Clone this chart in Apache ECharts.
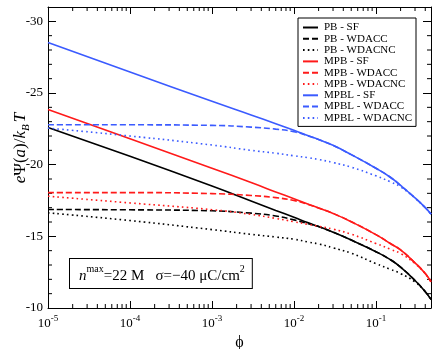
<!DOCTYPE html>
<html lang="en">
<head>
    <meta charset="UTF-8">
    <title>Surface potential vs phi</title>
    <style>
        *{
            margin: 0;
            padding: 0;
        }
        body{
            background: #fff;
        }
    </style>
</head>
<body>
<div id="main" style="width: 439px;height: 349px;"></div>
<script src="https://cdn.jsdelivr.net/npm/echarts@6/dist/echarts.min.js"></script>
<script type="text/javascript">
    // volume fraction samples (shared by all curves)
    var phi = [1e-5, 1e-4, 1e-3, 3e-3, 6e-3, 1e-2, 1.5e-2, 2e-2, 3e-2, 5e-2, 0.1, 0.15, 0.2, 0.3, 0.4, 0.47];

    // e*Psi(a)/kBT
    var pbSF       = [-22.6, -20.59, -18.51, -17.47, -16.81, -16.33, -15.94, -15.68, -15.29, -14.74, -13.93, -13.37, -12.85, -11.92, -11.14, -10.6];
    var pbWDACC    = [-16.87, -16.85, -16.78, -16.62, -16.42, -16.15, -15.88, -15.68, -15.29, -14.74, -13.93, -13.37, -12.85, -11.92, -11.14, -10.6];
    var pbWDACNC   = [-16.64, -16.1, -15.47, -15.14, -14.95, -14.8, -14.6, -14.47, -14.2, -13.82, -13.1, -12.7, -12.4, -11.82, -11.14, -10.6];
    var mpbSF      = [-23.85, -21.8, -19.75, -18.75, -18.1, -17.62, -17.24, -16.98, -16.6, -16.02, -15.12, -14.5, -14.05, -13.15, -12.4, -11.83];
    var mpbWDACC   = [-18.05, -18.05, -17.98, -17.85, -17.7, -17.5, -17.22, -16.98, -16.6, -16.02, -15.12, -14.5, -14.05, -13.15, -12.4, -11.83];
    var mpbWDACNC  = [-17.8, -17.33, -16.86, -16.53, -16.25, -16.02, -15.83, -15.7, -15.5, -15.15, -14.5, -14.1, -13.8, -13.1, -12.4, -11.83];
    var mpblSF     = [-28.52, -26.47, -24.42, -23.47, -22.86, -22.4, -22.02, -21.75, -21.35, -20.7, -19.75, -19.12, -18.55, -17.68, -17.0, -16.55];
    var mpblWDACC  = [-22.78, -22.78, -22.74, -22.62, -22.48, -22.3, -22.0, -21.75, -21.35, -20.7, -19.75, -19.12, -18.55, -17.68, -17.0, -16.55];
    var mpblWDACNC = [-22.55, -22.0, -21.37, -21.0, -20.8, -20.62, -20.48, -20.36, -20.15, -19.82, -19.22, -18.8, -18.45, -17.66, -17.0, -16.55];

    // axis ranges and tick helpers
    var xMin = 1e-5, xMax = 0.47;
    var yMin = -31, yMax = -10;
    var decades = [1e-5, 1e-4, 1e-3, 1e-2, 1e-1];
    var mults = [2, 3, 4, 5, 6, 7, 8, 9];
    var yMinor = [-29, -28, -27, -26, -24, -23, -22, -21, -19, -18, -17, -16, -14, -13, -12, -11];

    var serif = '"Liberation Serif", "DejaVu Serif", serif';
    var BLACK = '#000000', RED = '#ff1a1a', BLUE = '#3b5bff';

    function pairs(ys) {
        return phi.map(function (p, i) { return [p, ys[i]]; });
    }

    function curve(name, ys, color, type) {
        return {
            name: name,
            type: 'line',
            data: pairs(ys),
            symbol: 'none',
            smooth: 0.5,
            color: color,
            lineStyle: {
                color: color,
                width: 1.6,
                type: type === 'dash' ? [6, 3] : (type === 'dot' ? [1.6, 3.2] : 'solid')
            },
            z: 3
        };
    }

    var myChart = echarts.init(document.getElementById('main'));
    myChart.setOption({
        animation: false,
        backgroundColor: '#fff',
        grid: {
            left: 48,
            right: 8,
            top: 7,
            bottom: 41,
            outerBoundsMode: 'none'
        },
        xAxis: [
            {
                type: 'log',
                logBase: 10,
                min: xMin,
                max: xMax,
                position: 'bottom',
                name: 'ϕ',
                nameLocation: 'middle',
                nameGap: 24,
                nameTextStyle: {fontFamily: serif, fontSize: 16, color: '#000'},
                axisLine: {show: true, lineStyle: {color: '#000', width: 1}},
                axisTick: {show: true, inside: true, length: 7, lineStyle: {color: '#000'}},
                splitLine: {show: false},
                axisLabel: {
                    margin: 6,
                    color: '#000',
                    formatter: function (value) {
                        var e = Math.log(value) / Math.LN10;
                        if (Math.abs(e - Math.round(e)) > 1e-6) return '';
                        return '{b|10}{s|' + Math.round(e) + '}';
                    },
                    rich: {
                        b: {fontFamily: serif, fontSize: 13, color: '#000', lineHeight: 16, verticalAlign: 'bottom'},
                        s: {fontFamily: serif, fontSize: 9, color: '#000', lineHeight: 16, verticalAlign: 'top'}
                    }
                }
            },
            {
                type: 'log',
                logBase: 10,
                min: xMin,
                max: xMax,
                position: 'top',
                axisLine: {show: true, lineStyle: {color: '#000', width: 1}},
                axisTick: {show: true, inside: true, length: 7, lineStyle: {color: '#000'}},
                axisLabel: {show: false},
                splitLine: {show: false}
            }
        ],
        yAxis: [
            {
                type: 'value',
                min: yMin,
                max: yMax,
                inverse: true,
                splitNumber: 4,
                position: 'left',
                axisLine: {show: true, lineStyle: {color: '#000', width: 1}},
                axisTick: {show: true, inside: true, length: 8, lineStyle: {color: '#000'}},
                splitLine: {show: false},
                axisLabel: {
                    margin: 5,
                    fontFamily: serif,
                    fontSize: 13,
                    color: '#000',
                    formatter: function (value) {
                        return value % 5 === 0 ? String(value) : '';
                    }
                }
            },
            {
                type: 'value',
                min: yMin,
                max: yMax,
                inverse: true,
                splitNumber: 4,
                position: 'right',
                axisLine: {show: true, lineStyle: {color: '#000', width: 1}},
                axisTick: {show: true, inside: true, length: 8, lineStyle: {color: '#000'}},
                axisLabel: {show: false},
                splitLine: {show: false}
            }
        ],
        legend: {
            orient: 'vertical',
            left: 298,
            top: 18,
            itemWidth: 15,
            itemHeight: 8,
            itemGap: 0.3,
            padding: [4, 4, 3, 4],
            borderColor: '#000',
            borderWidth: 1,
            backgroundColor: '#fff',
            itemStyle: {color: 'rgba(0,0,0,0)', borderColor: 'rgba(0,0,0,0)', borderWidth: 0},
            textStyle: {fontFamily: serif, fontSize: 11, color: '#000', lineHeight: 10, padding: [0, 0, 0, 1]},
            data: ['PB - SF', 'PB - WDACC', 'PB - WDACNC', 'MPB - SF', 'MPB - WDACC', 'MPB - WDACNC',
                   'MPBL - SF', 'MPBL - WDACC', 'MPBL - WDACNC']
        },
        series: [
            curve('PB - SF', pbSF, BLACK, 'solid'),
            curve('PB - WDACC', pbWDACC, BLACK, 'dash'),
            curve('PB - WDACNC', pbWDACNC, BLACK, 'dot'),
            curve('MPB - SF', mpbSF, RED, 'solid'),
            curve('MPB - WDACC', mpbWDACC, RED, 'dash'),
            curve('MPB - WDACNC', mpbWDACNC, RED, 'dot'),
            curve('MPBL - SF', mpblSF, BLUE, 'solid'),
            curve('MPBL - WDACC', mpblWDACC, BLUE, 'dash'),
            curve('MPBL - WDACNC', mpblWDACNC, BLUE, 'dot')
        ]
    });

    // texts and minor ticks, placed through the chart's own scales
    var graphics = [
        {
            type: 'text',
            x: 21,
            y: 148,
            rotation: Math.PI / 2,
            style: {
                text: '{i|e}{r|Ψ(}{i|a}{r|)/}{i|k}{sub|B}{i|T}',
                align: 'center',
                verticalAlign: 'middle',
                rich: {
                    i: {fontFamily: serif, fontSize: 17, fontStyle: 'italic', fill: '#000', lineHeight: 22, verticalAlign: 'middle'},
                    r: {fontFamily: serif, fontSize: 17, fill: '#000', lineHeight: 22, verticalAlign: 'middle'},
                    sub: {fontFamily: serif, fontSize: 11, fontStyle: 'italic', fill: '#000', lineHeight: 22, verticalAlign: 'bottom', padding: [0, 2, 0, 0]}
                }
            }
        },
        {
            type: 'text',
            left: 69,
            top: 258,
            z: 10,
            style: {
                text: '{i|n}{sup|max}{r|=22 M   σ=−40 μC/cm}{sup|2}',
                backgroundColor: '#fff',
                borderColor: '#000',
                borderWidth: 1,
                padding: [5, 7, 4, 9],
                rich: {
                    i: {fontFamily: serif, fontSize: 15, fontStyle: 'italic', fill: '#000', lineHeight: 20, verticalAlign: 'bottom'},
                    r: {fontFamily: serif, fontSize: 15, fill: '#000', lineHeight: 20, verticalAlign: 'bottom'},
                    sup: {fontFamily: serif, fontSize: 10, fill: '#000', lineHeight: 20, verticalAlign: 'top'}
                }
            }
        }
    ];

    var tickLine = {stroke: '#000', lineWidth: 1};
    decades.forEach(function (d) {
        mults.forEach(function (m) {
            var v = d * m;
            if (v >= xMax) return;
            var b = myChart.convertToPixel({gridIndex: 0}, [v, yMax]);
            var t = myChart.convertToPixel({gridIndex: 0}, [v, yMin]);
            graphics.push({type: 'line', silent: true, shape: {x1: b[0], y1: b[1], x2: b[0], y2: b[1] - 4}, style: tickLine});
            graphics.push({type: 'line', silent: true, shape: {x1: t[0], y1: t[1], x2: t[0], y2: t[1] + 4}, style: tickLine});
        });
    });
    yMinor.forEach(function (y) {
        var l = myChart.convertToPixel({gridIndex: 0}, [xMin, y]);
        var r = myChart.convertToPixel({gridIndex: 0}, [xMax, y]);
        graphics.push({type: 'line', silent: true, shape: {x1: l[0], y1: l[1], x2: l[0] + 4, y2: l[1]}, style: tickLine});
        graphics.push({type: 'line', silent: true, shape: {x1: r[0], y1: r[1], x2: r[0] - 4, y2: r[1]}, style: tickLine});
    });

    myChart.setOption({graphic: graphics});
</script>
</body>
</html>
